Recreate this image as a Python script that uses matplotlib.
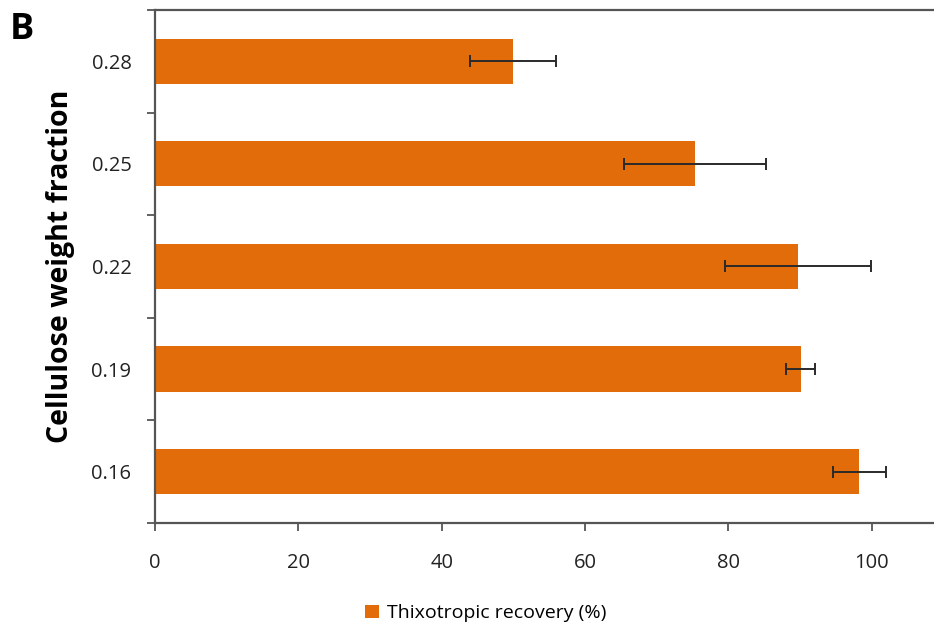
import matplotlib
matplotlib.use('Agg')
import matplotlib.pyplot as plt
from matplotlib.ticker import FixedLocator

# data
fractions = ['0.16', '0.19', '0.22', '0.25', '0.28']
recovery = [98.3, 90.1, 89.7, 75.3, 50.0]
errors = [3.7, 2.0, 10.2, 9.9, 6.0]
xticks = [0, 20, 40, 60, 80, 100]

bar_color = '#E36C0A'
axis_color = '#555555'

plt.rcParams['font.family'] = ['Open Sans', 'DejaVu Sans']

fig = plt.figure(figsize=(9.34, 6.27), dpi=100)
ax = fig.add_axes([0.166, 0.166, 0.834, 0.818])

pos = list(range(len(fractions)))
ax.barh(pos, recovery, height=0.44, color=bar_color, zorder=2,
        label='Thixotropic recovery (%)')
ax.errorbar(recovery, pos, xerr=errors, fmt='none', ecolor='#2a2a2a',
            elinewidth=1.4, capsize=4, capthick=1.4, zorder=3)

ax.set_xlim(0, 108.7)
ax.set_ylim(-0.5, len(fractions) - 0.5)

ax.set_yticks(pos)
ax.set_yticklabels(fractions, fontsize=14.5, color='#222222')
ax.tick_params(axis='y', which='major', length=0, pad=17)
ax.yaxis.set_minor_locator(FixedLocator([p - 0.5 for p in pos] + [len(pos) - 0.5]))
ax.tick_params(axis='y', which='minor', length=6, width=1.3, color=axis_color)

ax.set_xticks(xticks)
ax.set_xticklabels([str(v) for v in xticks], fontsize=14.5, color='#222222')
ax.tick_params(axis='x', length=6, width=1.3, color=axis_color, pad=16)

for side in ['left', 'bottom', 'top']:
    ax.spines[side].set_color(axis_color)
    ax.spines[side].set_linewidth(1.6)
ax.spines['right'].set_visible(False)

ax.set_ylabel('Cellulose weight fraction', fontsize=20.5, fontweight='bold',
              labelpad=12)

fig.text(0.01, 0.952, 'B', fontsize=26, fontweight='bold', va='center')

fig.legend(loc='center', bbox_to_anchor=(0.52, 0.022), frameon=False,
           fontsize=14, handlelength=0.7, handleheight=0.7, handletextpad=0.4)

plt.savefig('out.png', dpi=100)
plt.close()
